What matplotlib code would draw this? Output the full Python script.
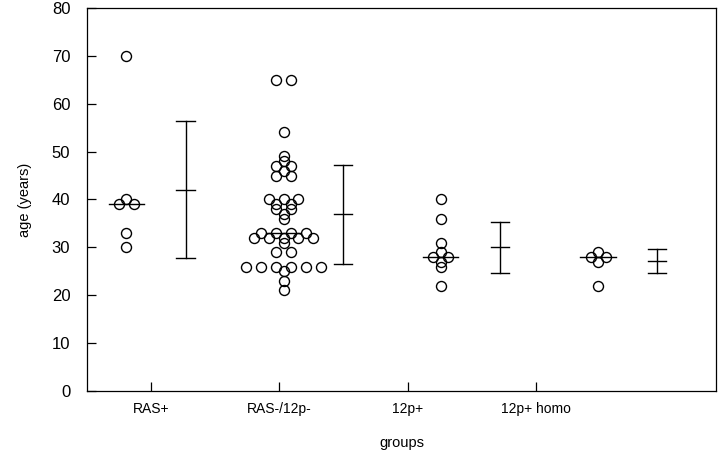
"""
Age by group: individual ages as a dot swarm, median line,
and mean +/- SD error bar next to each group.
"""

from collections import Counter

import numpy as np
import matplotlib
matplotlib.use("Agg")
import matplotlib.pyplot as plt

plt.rcParams["font.family"] = ["Liberation Sans", "DejaVu Sans"]

GROUPS = ["RAS+", "RAS-/12p-", "12p+", "12p+ homo"]

AGES_RAS_POS = [70, 40, 39, 39, 33, 30]
AGES_RAS_NEG = [65, 65, 54, 49, 48, 47, 47, 46, 45, 45,
                40, 40, 40, 39, 39, 38, 38, 37, 36,
                33, 33, 33, 33, 32, 32, 32, 32, 32, 31, 29, 29,
                26, 26, 26, 26, 26, 26, 25, 23, 21]
AGES_12P = [40, 36, 31, 29, 28, 28, 27, 26, 22]
AGES_HOMO = [29, 28, 28, 27, 22]

MEDIANS = [39, 33, 28, 28]
MEANS = [42.0, 36.9, 30.0, 27.1]
SDS = [14.3, 10.3, 5.4, 2.5]

SWARM_STEP = 0.095    # horizontal spacing of identical values
MEDIAN_HALF = 0.112
ERR_OFFSET = 0.377
CAP_HALF = 0.058


def swarm_offsets(values):
    counts = Counter(values)
    seen = Counter()
    offs = []
    for v in values:
        n = counts[v]
        k = seen[v]
        offs.append((k - (n - 1) / 2) * SWARM_STEP)
        seen[v] += 1
    return np.array(offs)


def main():
    fig = plt.figure(figsize=(7.2, 4.55), dpi=100)
    ax = fig.add_axes([0.1208, 0.1407, 0.8736, 0.8417])

    all_ages = [AGES_RAS_POS, AGES_RAS_NEG, AGES_12P, AGES_HOMO]
    for i, ages in enumerate(all_ages):
        xc = i + 1
        # median line under the dots
        ax.plot([xc - MEDIAN_HALF, xc + MEDIAN_HALF], [MEDIANS[i]] * 2,
                color="black", lw=1.0, zorder=2)
        ax.plot(xc + swarm_offsets(ages), ages, "o", ms=7.2,
                mfc="none", mec="black", mew=1.0, zorder=3)

        # mean +/- SD
        xe = xc + ERR_OFFSET
        lo, hi = MEANS[i] - SDS[i], MEANS[i] + SDS[i]
        ax.plot([xe, xe], [lo, hi], color="black", lw=1.0)
        for yv in (lo, MEANS[i], hi):
            ax.plot([xe - CAP_HALF, xe + CAP_HALF], [yv, yv],
                    color="black", lw=1.0)

    ax.set_xlim(0.75, 4.75)
    ax.set_ylim(0, 80)
    ax.set_yticks(np.arange(0, 81, 10))
    ax.set_xticks([1.157 + 0.816 * i for i in range(len(GROUPS))])
    ax.set_xticklabels(GROUPS, fontsize=10)
    ax.tick_params(axis="y", labelsize=12, pad=12)
    ax.tick_params(axis="x", pad=8)
    ax.tick_params(direction="in", length=6.5, width=0.9,
                   top=False, right=False)
    for sp in ax.spines.values():
        sp.set_linewidth(0.9)

    ax.set_xlabel("groups", fontsize=10.5, labelpad=14)
    ax.set_ylabel("age (years)", fontsize=10.5, labelpad=14)

    fig.savefig("out.png", dpi=100)
    plt.close(fig)


if __name__ == "__main__":
    main()
